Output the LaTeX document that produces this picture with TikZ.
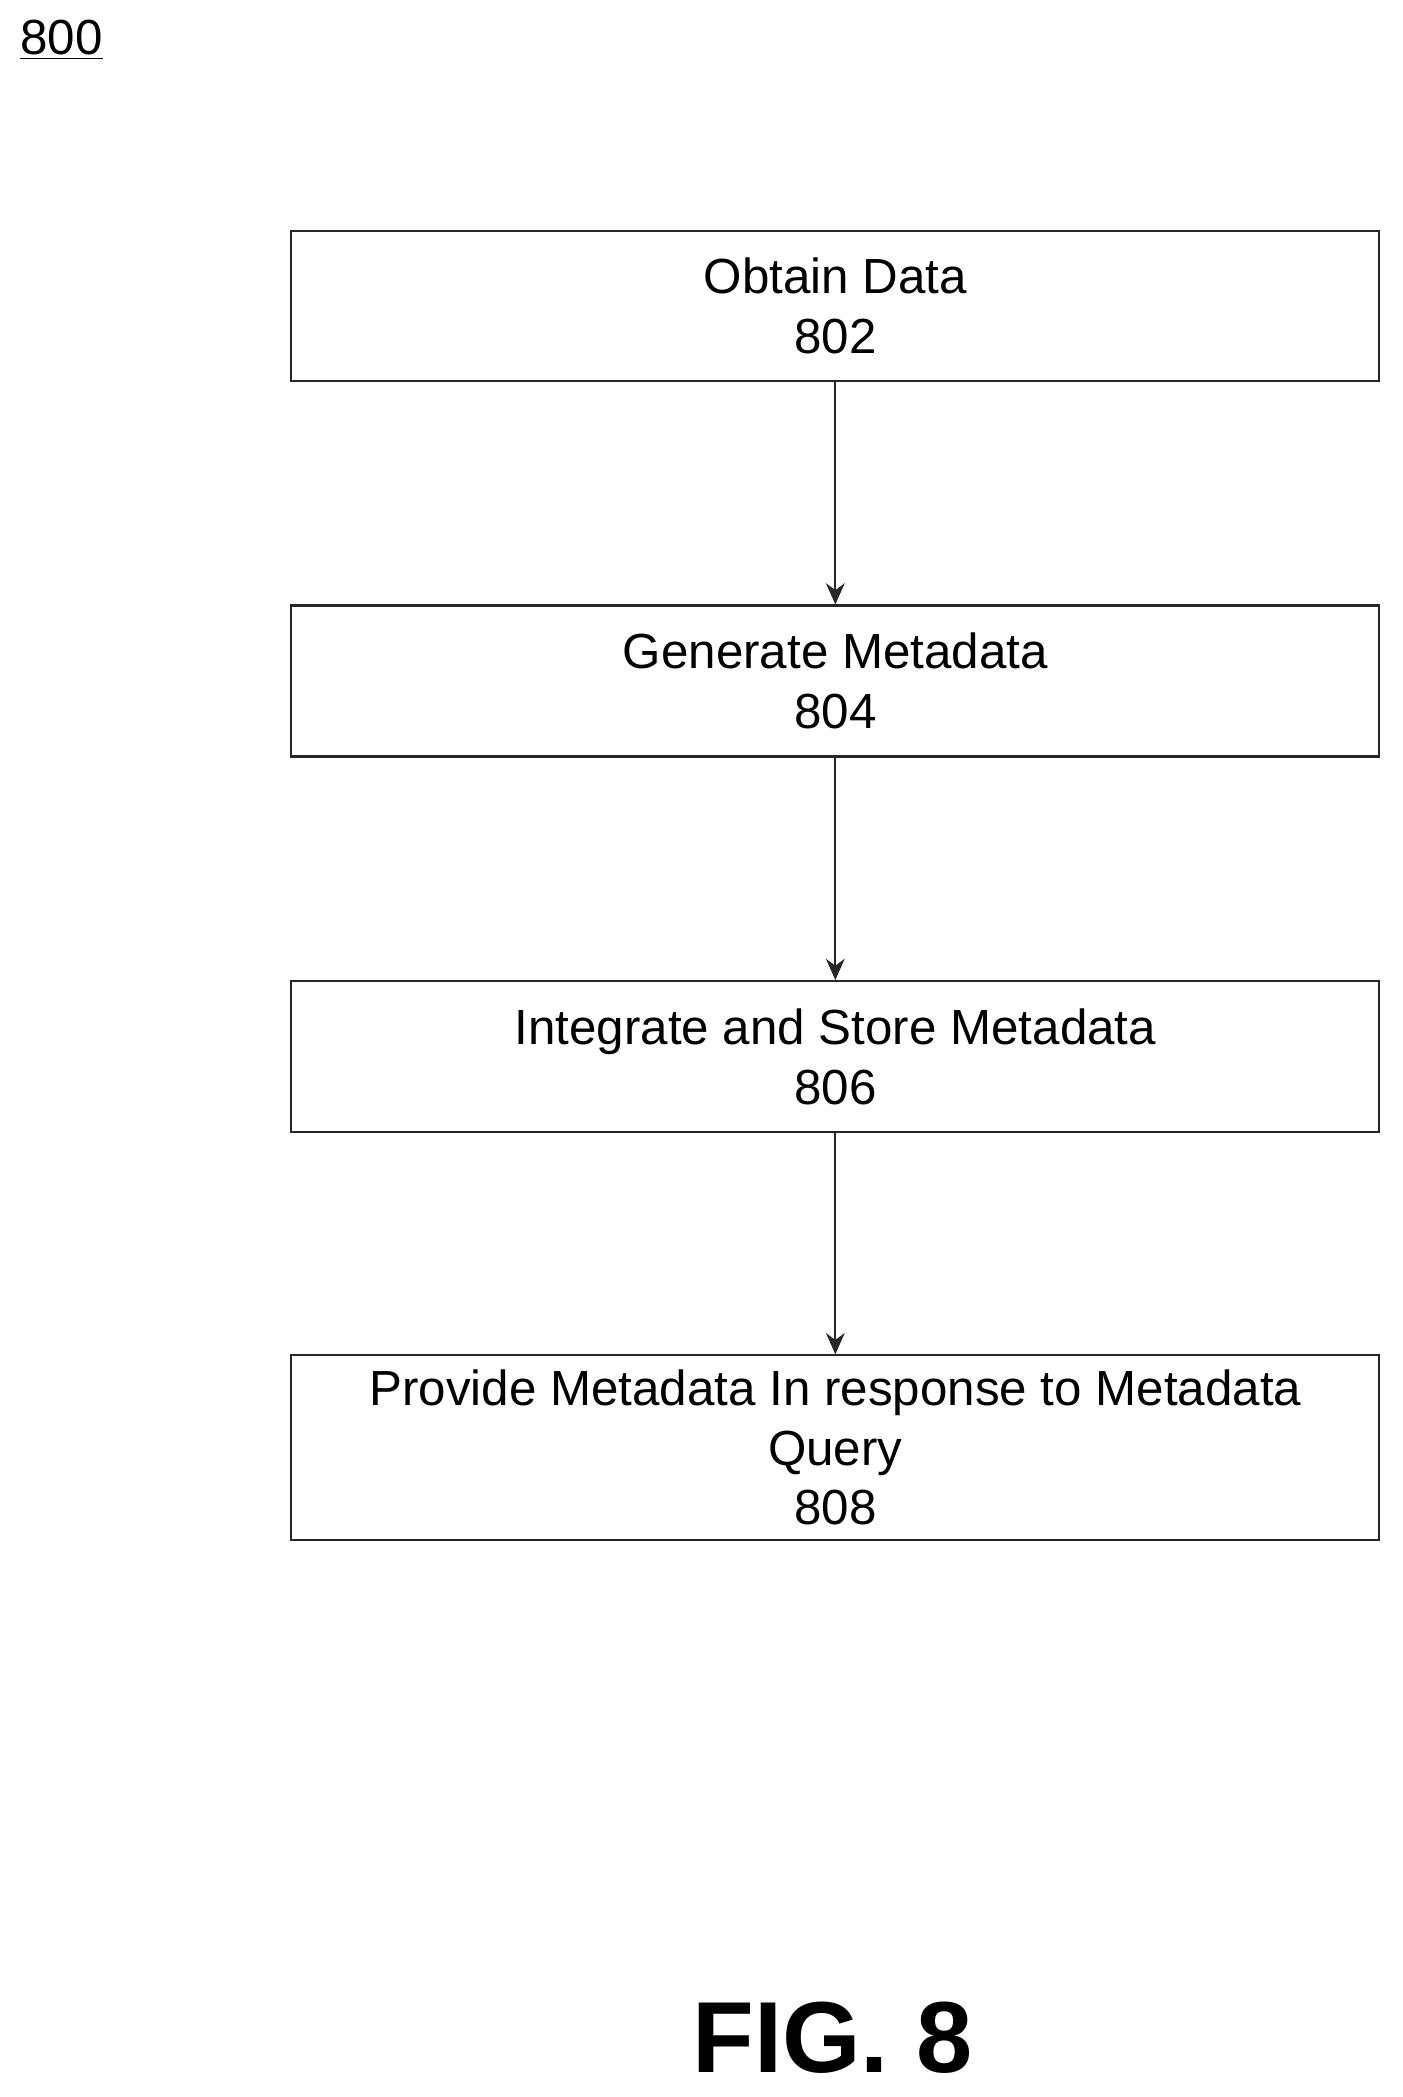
\documentclass[tikz,border=0pt]{standalone}
\usepackage{fontspec}
\setmainfont{Liberation Sans}
\usetikzlibrary{arrows.meta}
\begin{document}
\begin{tikzpicture}[x=0.02cm,y=-0.02cm,
  box/.style={draw=black!85,line width=0.9pt,minimum width=814*0.02cm,inner sep=0pt,align=center,font=\fontsize{21}{25.5}\selectfont},
  arr/.style={draw=black!85,line width=0.9pt,-{Stealth[length=9pt,width=8pt]}}]
\useasboundingbox (0,0) rectangle (1049,1569);
\node[font=\fontsize{21}{24}\selectfont] (lbl) at (46,30) {\underline{800}};
\node[box,minimum height=112*0.02cm] (b1) at (625,229) {Obtain Data\\802};
\node[box,minimum height=113*0.02cm] (b2) at (625,509.5) {Generate Metadata\\804};
\node[box,minimum height=113*0.02cm] (b3) at (625,790.5) {Integrate and Store Metadata\\806};
\node[box,minimum height=138*0.02cm] (b4) at (625,1083) {Provide Metadata In response to Metadata\\Query\\808};
\draw[arr] (b1) -- (b2);
\draw[arr] (b2) -- (b3);
\draw[arr] (b3) -- (b4);
\node[font=\bfseries\fontsize{43}{50}\selectfont] (fig) at (623,1525) {FIG. 8};
\end{tikzpicture}
\end{document}
